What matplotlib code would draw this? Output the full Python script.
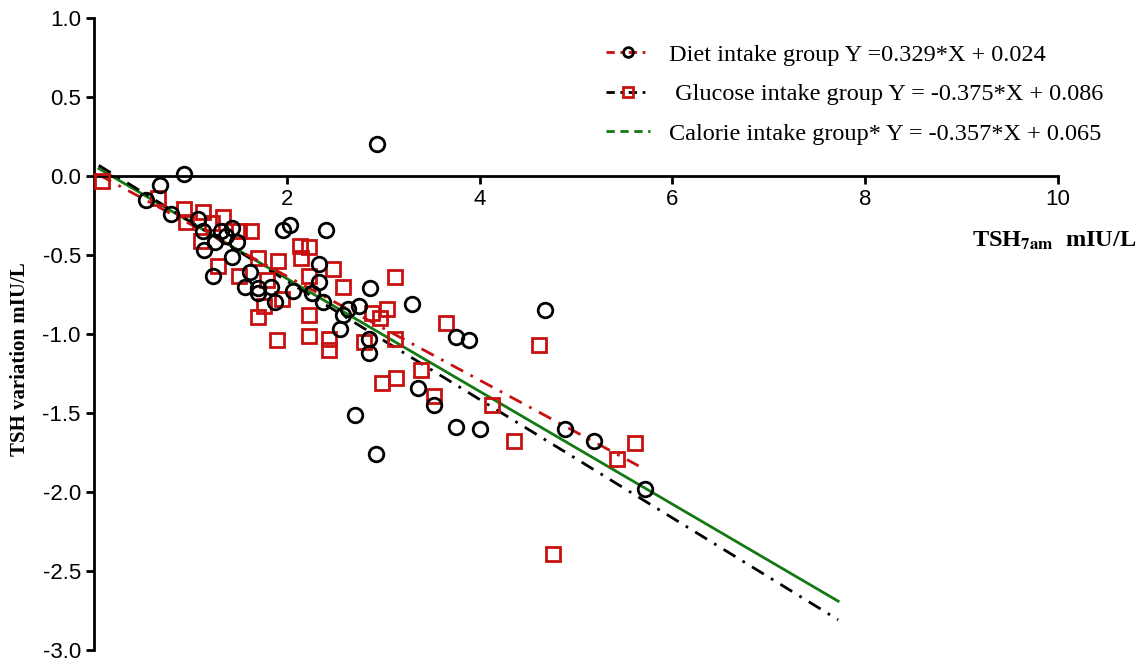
import matplotlib
matplotlib.use('Agg')
import matplotlib.pyplot as plt
from matplotlib.lines import Line2D
import numpy as np

# diet intake group (open black circles)
diet_x = [0.54, 0.68, 0.93, 0.80, 1.08, 1.13, 1.26, 1.14, 1.32, 1.37, 1.43, 1.48,
          1.43, 1.23, 1.62, 1.57, 1.70, 1.70, 1.84, 1.88, 1.96, 2.03, 2.41, 2.33,
          2.33, 2.26, 2.06, 2.38, 2.86, 3.30, 2.75, 2.63, 2.58, 2.55, 2.85, 2.85,
          3.76, 3.89, 3.36, 3.53, 2.71, 3.76, 4.00, 2.93, 2.94, 4.68, 4.89, 5.19,
          5.72]
diet_y = [-0.15, -0.06, 0.01, -0.24, -0.27, -0.35, -0.42, -0.47, -0.35, -0.38, -0.33, -0.42,
          -0.51, -0.63, -0.61, -0.70, -0.71, -0.74, -0.70, -0.80, -0.34, -0.31, -0.34, -0.56,
          -0.67, -0.74, -0.73, -0.80, -0.71, -0.81, -0.82, -0.84, -0.88, -0.97, -1.03, -1.12,
          -1.02, -1.04, -1.34, -1.45, -1.51, -1.59, -1.60, -1.76, 0.20, -0.85, -1.60, -1.68,
          -1.98]

# glucose intake group (open red squares)
gluc_x = [0.08, 0.66, 0.93, 1.13, 1.34, 0.95, 1.22, 1.11, 1.50, 1.63, 1.29, 1.50,
          1.70, 1.79, 1.76, 1.70, 1.91, 2.14, 2.23, 2.15, 2.48, 2.23, 2.58, 3.12,
          1.95, 2.23, 1.90, 2.23, 2.44, 2.44, 2.88, 3.04, 2.97, 3.12, 3.65, 2.80,
          3.39, 2.99, 3.13, 3.53, 4.13, 4.36, 4.62, 5.43, 5.61, 4.76]
gluc_y = [-0.03, -0.14, -0.21, -0.23, -0.26, -0.29, -0.30, -0.41, -0.35, -0.35, -0.57, -0.63,
          -0.52, -0.66, -0.82, -0.89, -0.54, -0.44, -0.45, -0.52, -0.59, -0.63, -0.70, -0.64,
          -0.78, -0.88, -1.04, -1.01, -1.03, -1.10, -0.87, -0.84, -0.90, -1.03, -0.93, -1.05,
          -1.23, -1.31, -1.28, -1.39, -1.45, -1.68, -1.07, -1.79, -1.69, -2.39]

# regression lines: slope, intercept, x range
diet_fit = (-0.329, 0.024, [0.05, 5.65])
gluc_fit = (-0.375, 0.086, [0.05, 7.72])
cal_fit = (-0.357, 0.065, [0.05, 7.72])

labels = ['Diet intake group Y =0.329*X + 0.024',
          ' Glucose intake group Y = -0.375*X + 0.086',
          'Calorie intake group* Y = -0.357*X + 0.065']

red = '#c81010'
green = '#137a13'

plt.rcParams['mathtext.fontset'] = 'stix'

fig = plt.figure(figsize=(11.42, 6.62), dpi=100)
ax = fig.add_axes([94 / 1142, 1 - 650 / 662, 964 / 1142, 632 / 662])

def fit_line(fit):
    k, b, xr = fit
    xr = np.array(xr)
    return xr, k * xr + b

x, y = fit_line(cal_fit)
ax.plot(x, y, color=green, lw=2.0, zorder=2)
x, y = fit_line(gluc_fit)
ax.plot(x, y, color='black', lw=2.0, ls=(0, (5, 3, 1, 3)), zorder=2)
x, y = fit_line(diet_fit)
ax.plot(x, y, color=red, lw=2.0, ls=(0, (5, 3, 1, 3)), zorder=2)

ax.plot(gluc_x, gluc_y, 's', ms=10, mfc='none', mec=red, mew=2.0, zorder=3)
ax.plot(diet_x, diet_y, 'o', ms=10.5, mfc='none', mec='black', mew=2.0, zorder=4)

ax.set_xlim(0, 10)
ax.set_ylim(-3, 1)
ax.set_xticks([2, 4, 6, 8, 10])
ax.set_yticks(np.arange(-3, 1.01, 0.5))
ax.set_yticklabels(['%.1f' % v for v in np.arange(-3, 1.01, 0.5)])

ax.spines['top'].set_visible(False)
ax.spines['right'].set_visible(False)
ax.spines['bottom'].set_position(('data', 0))
for s in ['left', 'bottom']:
    ax.spines[s].set_linewidth(2.0)
ax.tick_params(width=2.0, length=6, labelsize=16, colors='black')
for t in ax.get_xticklabels() + ax.get_yticklabels():
    t.set_family('Liberation Sans')

ax.set_ylabel('TSH variation mIU/L', family='Liberation Serif', weight='bold', fontsize=15)
ax.yaxis.set_label_coords(-0.066, 0.46)

fig.text(1136 / 1142, 1 - 247 / 662, r'TSH$_{\mathbf{7am}}$  mIU/L', ha='right', va='baseline',
         family='Liberation Serif', weight='bold', fontsize=17.5)

handles = [
    Line2D([], [], color=red, lw=2, ls=(0, (3, 2, 1, 2)), marker='o', ms=7, mfc='none', mec='black', mew=2),
    Line2D([], [], color='black', lw=2, ls=(0, (3, 2, 1, 2)), marker='s', ms=7, mfc='none', mec=red, mew=2),
    Line2D([], [], color=green, lw=2, ls=(0, (3, 2))),
]
leg = fig.legend(handles, labels, loc='upper left', bbox_to_anchor=(584 / 1142, 1 - 22 / 662),
                 frameon=False, prop={'family': 'Liberation Serif', 'size': 17.5},
                 handlelength=1.8, handletextpad=0.8, labelspacing=0.72)

fig.savefig('out.png', dpi=100)
